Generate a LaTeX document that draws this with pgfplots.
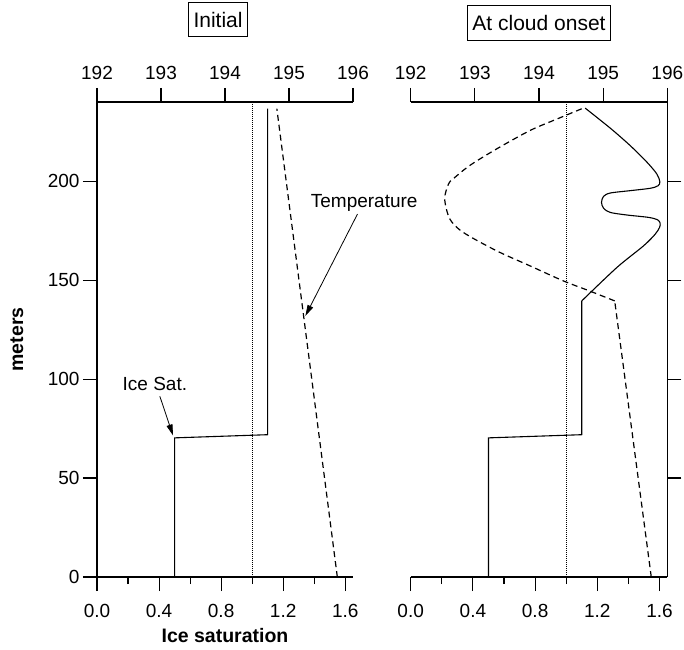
\documentclass[border=0pt]{standalone}
\usepackage{fontspec}
\setmainfont{Liberation Sans}
\usepackage{pgfplots}
\pgfplotsset{compat=1.18}
\usetikzlibrary{arrows.meta}

\newcommand{\tickfont}{\fontsize{19bp}{23bp}\selectfont}
\newcommand{\titlefont}{\fontsize{21bp}{25bp}\selectfont}
\newcommand{\low}{\rule{0pt}{22.6bp}}

\pgfplotsset{
  panel/.style={
    scale only axis, width=256bp, height=475bp,
    ymin=0, ymax=240, clip=false,
    major tick length=14bp, minor tick length=7bp,
    axis line style={line width=1.1bp},
    every tick/.style={line width=1.1bp, black},
    tick label style={font=\tickfont},
    /pgf/number format/assume math mode=true,
  },
  sat/.style={
    xmin=0, xmax=1.65,
    axis x line*=bottom,
    xtick={0,0.4,0.8,1.2,1.6}, minor xtick={0.2,0.6,1.0,1.4},
    xticklabels={\low 0.0, \low 0.4, \low 0.8, \low 1.2, \low 1.6},
    x tick label style={anchor=north},
    xtick align=outside, ytick align=outside,
    ytick={0,50,100,150,200},
  },
  temp/.style={
    xmin=192, xmax=196,
    axis x line*=top, axis y line=none, ytick=\empty,
    xtick={192,193,194,195,196},
    xtick align=outside,
    xticklabel style={yshift=5bp},
    title style={draw, line width=0.8bp, inner xsep=5bp, inner ysep=9.5bp,
      font=\titlefont, anchor=center},
  },
  solidline/.style={black, line width=1.1bp},
  dashline/.style={black, line width=1.2bp, dash pattern=on 6bp off 4bp},
  dotline/.style={black, line width=0.8bp, dash pattern=on 1bp off 1bp},
}

\begin{document}
\begin{tikzpicture}
\useasboundingbox (0,0) rectangle (684bp,650bp);

% ---- Initial ----
\begin{axis}[panel, sat, at={(97bp,73bp)}, anchor=south west,
  axis y line*=left,
  xlabel={Ice saturation}, ylabel={meters},
  every axis x label/.style={at={(axis description cs:0.5,-0.1227)}, anchor=center,
    font=\fontsize{19.5bp}{23bp}\selectfont\bfseries},
  every axis y label/.style={at={(axis description cs:-0.3129,0.5)}, rotate=90, anchor=center,
    font=\fontsize{19.5bp}{23bp}\selectfont\bfseries},
]
\addplot[dotline] coordinates {(1,0) (1,240)};
\addplot[solidline] coordinates {(0.5,0) (0.5,70.3) (1.1,71.9) (1.1,236.6)};
\node[font=\tickfont] at (axis cs:0.373,97.5) {Ice Sat.};
\draw[-{Triangle[length=11bp,width=6bp]}, line width=0.8bp]
  (axis cs:0.405,91.3) -- (axis cs:0.49,71.5);
\node[font=\tickfont] at (axis cs:1.722,189.1) {Temperature};
\draw[-{Triangle[length=11bp,width=6bp]}, line width=0.8bp]
  (axis cs:1.679,183.4) -- (axis cs:1.343,131.9);
\end{axis}

\begin{axis}[panel, temp, at={(97bp,73bp)}, anchor=south west,
  title={Initial}, title style={at={(axis description cs:0.4727,1.161)}}]
\addplot[dashline] coordinates {(195.755,0) (194.81,236.6)};
\end{axis}

% ---- At cloud onset ----
\begin{axis}[panel, sat, at={(410.7bp,73bp)}, anchor=south west,
  width=256.6bp,
  axis y line*=right, ytick={50,100,150,200}, yticklabels={},
]
\addplot[dotline] coordinates {(1,0) (1,240)};
\addplot[solidline] coordinates {(0.5,0) (0.5,70.3) (1.1,71.9) (1.1,139.5)};
\addplot[solidline, smooth, tension=0.5] coordinates {
  (1.100,139.5) (1.326,156.4) (1.497,167.3) (1.572,173.2) (1.600,176.6)
  (1.604,178.8) (1.587,180.5) (1.529,181.7) (1.390,182.9) (1.283,184.2)
  (1.240,186.3) (1.227,189.3) (1.240,192.3) (1.283,194.0) (1.411,195.2)
  (1.540,196.4) (1.591,197.7) (1.602,199.7) (1.583,203.6) (1.519,209.6)
  (1.411,218.0) (1.283,226.8) (1.122,236.9)
};
\end{axis}

\begin{axis}[panel, temp, at={(410.7bp,73bp)}, anchor=south west,
  width=256.6bp,
  title={At cloud onset}, title style={at={(axis description cs:0.5,1.1537)}}]
\addplot[dashline] coordinates {(195.75,0) (195.18,139.5)};
\addplot[dashline, smooth, tension=0.5] coordinates {
  (195.18,139.5) (194.79,144.5) (194.38,149.6) (193.86,157.2) (193.34,164.8)
  (192.82,174.1) (192.61,180.9) (192.53,191.0) (192.59,198.6) (192.66,201.1)
  (192.92,207.9) (193.34,216.3) (193.86,225.6) (194.28,231.4) (194.69,236.9)
};
\end{axis}
\end{tikzpicture}
\end{document}
